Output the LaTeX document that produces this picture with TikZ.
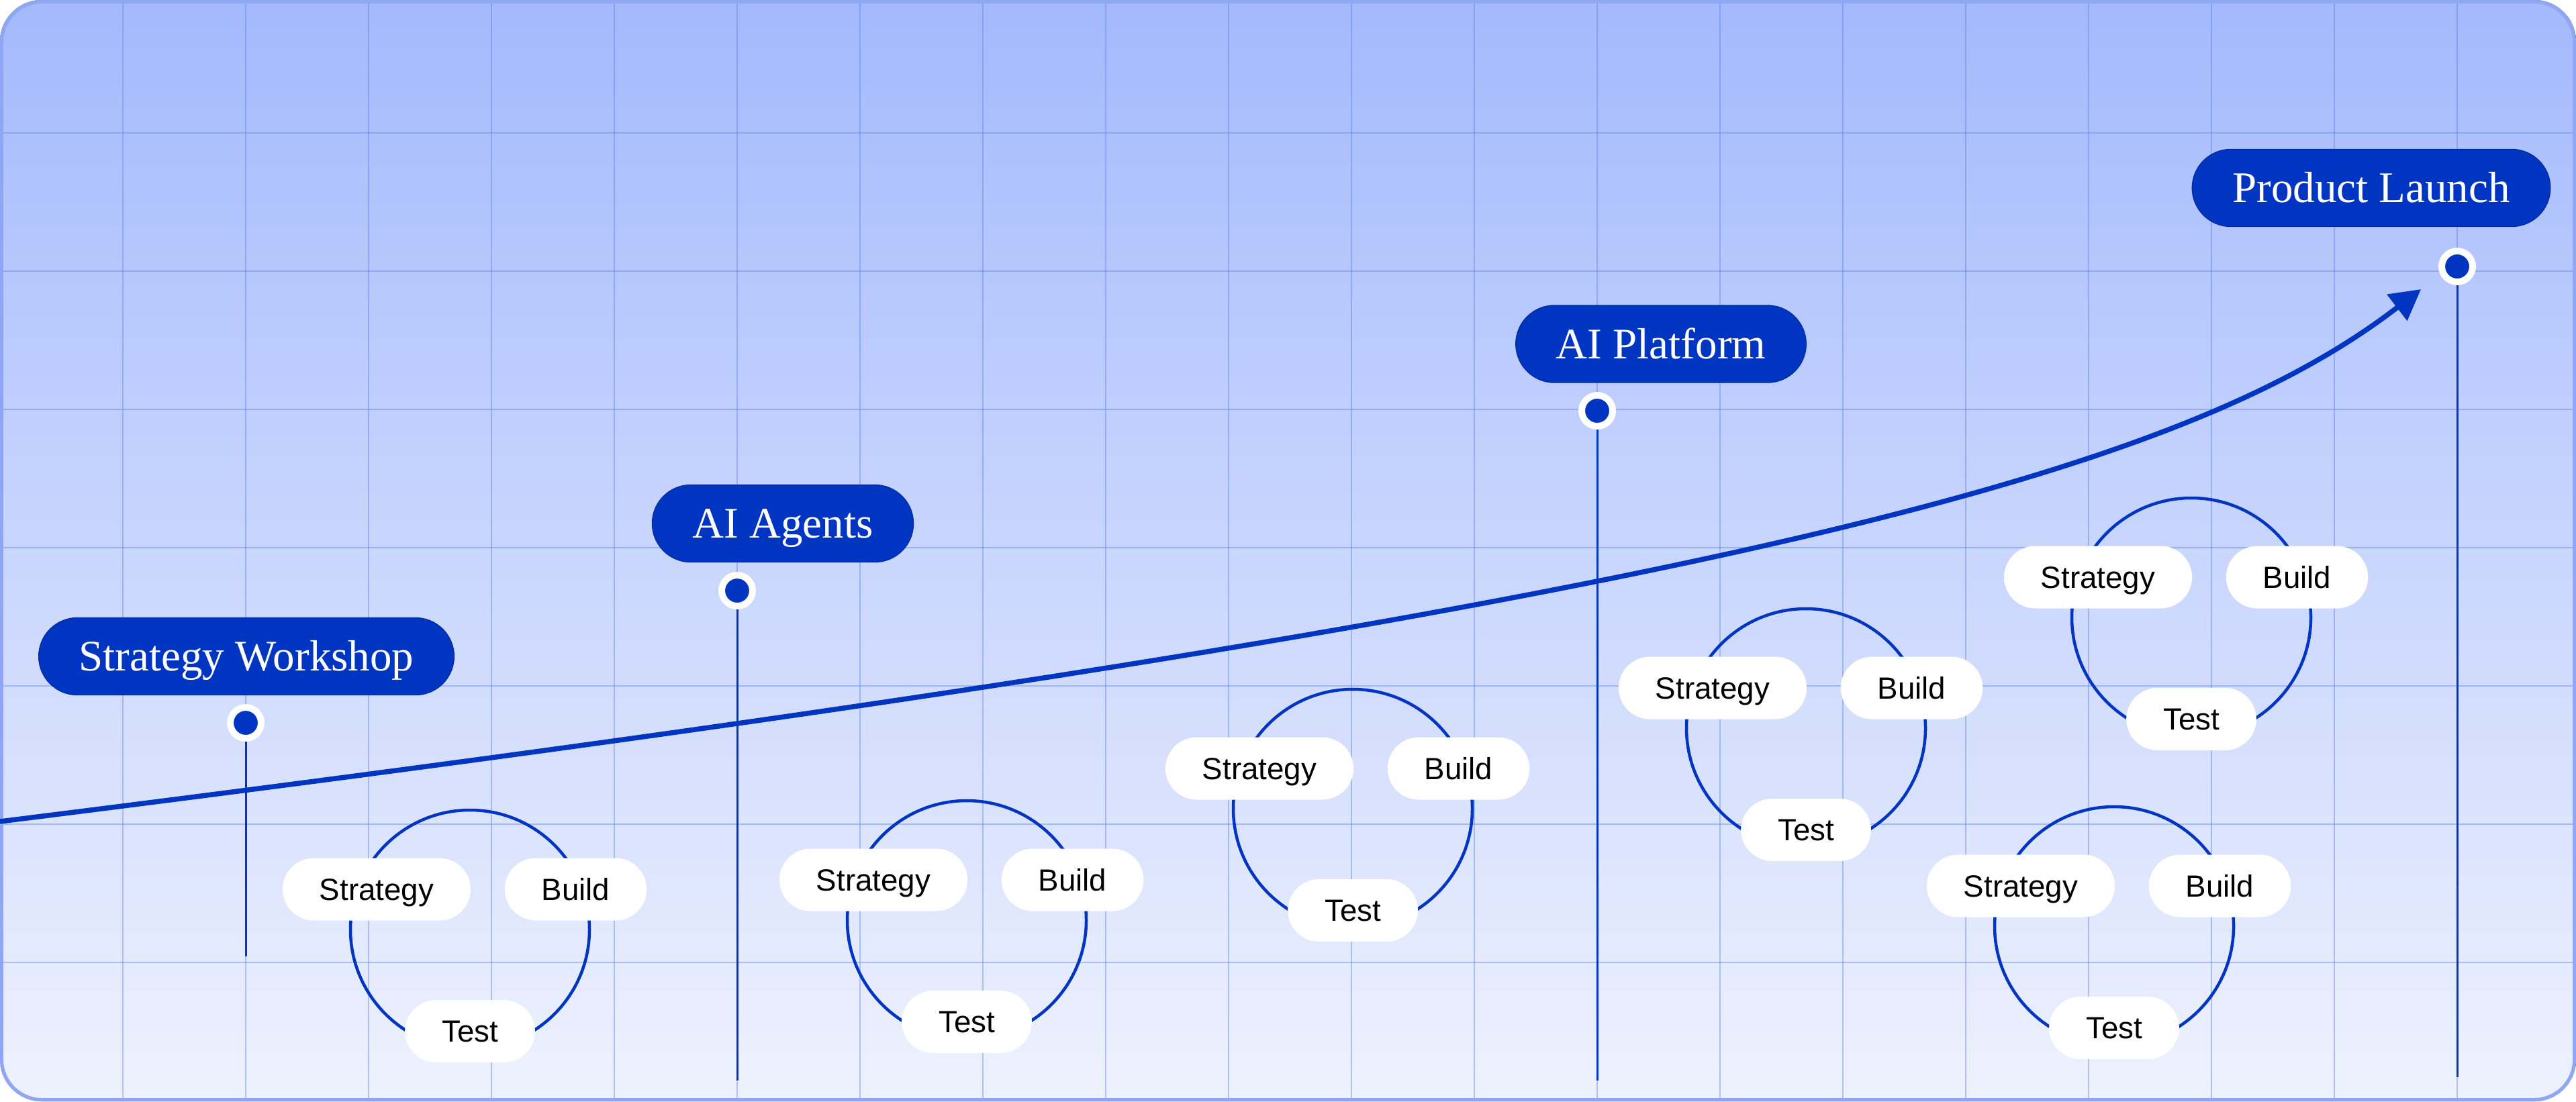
\documentclass[tikz,border=0pt]{standalone}
\usepackage{fontspec}
\setmainfont{Liberation Serif}
\newfontfamily\stepfont{Liberation Sans}
\usetikzlibrary{arrows.meta}

\definecolor{roadblue}{HTML}{0035C1}
\definecolor{bgtop}{HTML}{A3B9FC}
\definecolor{bgbottom}{HTML}{EEF2FE}
\definecolor{gridblue}{HTML}{5A7FEA}
\definecolor{framecol}{HTML}{8EA6F3}

\begin{document}
\begin{tikzpicture}[
  %% Dark blue milestone pills (serif)
  milestone/.style={draw=roadblue!85!black, line width=0.4pt, fill=roadblue,
                    rounded corners=0.575cm, minimum height=1.15cm,
                    inner xsep=0.6cm, text=white,
                    font=\fontsize{18.5}{22}\selectfont,
                    text height=0.43cm, text depth=0pt},
  %% Ringed dot under each milestone
  milestonedot/.style={circle, fill=roadblue, draw=white, line width=0.1cm,
                       minimum size=0.46cm, inner sep=0pt},
  %% White pills of the Strategy / Build / Test cycles
  stepbox/.style={fill=white, rounded corners=0.465cm, minimum height=0.93cm,
                  inner xsep=0.55cm, text=black,
                  font=\stepfont\fontsize{13}{15}\selectfont,
                  text height=0.327cm, text depth=0pt},
  %% Lines
  gridline/.style={draw=gridblue, draw opacity=0.42, line width=0.025cm},
  stemline/.style={draw=roadblue, line width=0.03cm},
  loopline/.style={draw=roadblue, line width=0.045cm},
  trend/.style={-{Triangle[length=0.45cm, width=0.48cm]},
                draw=roadblue, line width=0.075cm}
]

\useasboundingbox (0,0) rectangle (38.37,-16.41);

%% ── Background panel with grid ──────────────────────────────────────────
\fill[top color=bgtop, bottom color=bgbottom, rounded corners=0.62cm]
  (0,0) rectangle (38.37,-16.41);
\begin{scope}
  \clip[rounded corners=0.62cm] (0,0) rectangle (38.37,-16.41);
  \foreach \gx in {1,...,20}
    \draw[gridline] (\gx*1.83,0) -- (\gx*1.83,-16.41);
  \foreach \gy in {0,...,6}
    \draw[gridline] (0,-1.98-\gy*2.06) -- (38.37,-1.98-\gy*2.06);
\end{scope}
\draw[framecol, line width=0.05cm, rounded corners=0.6cm]
  (0.025,-0.025) rectangle (38.345,-16.385);

%% ── Milestones: label, dot, stem ────────────────────────────────────────
\node[milestone]    (workshop)    at (3.67,-9.78)   {Strategy Workshop};
\node[milestonedot] (workshopdot) at (3.66,-10.77)  {};
\node[milestone]    (agents)      at (11.66,-7.80)  {AI Agents};
\node[milestonedot] (agentsdot)   at (10.98,-8.80)  {};
\node[milestone]    (platform)    at (24.74,-5.125) {AI Platform};
\node[milestonedot] (platformdot) at (23.79,-6.12)  {};
\node[milestone]    (launch)      at (35.32,-2.80)  {Product Launch};
\node[milestonedot] (launchdot)   at (36.60,-3.97)  {};

\coordinate (workshopend) at (3.66,-14.25);
\coordinate (agentsend)   at (10.98,-16.10);
\coordinate (platformend) at (23.79,-16.10);
\coordinate (launchend)   at (36.60,-16.05);

\draw[stemline] (workshopdot) -- (workshopend);
\draw[stemline] (agentsdot)   -- (agentsend);
\draw[stemline] (platformdot) -- (platformend);
\draw[stemline] (launchdot)   -- (launchend);

%% ── Rising trend arrow ──────────────────────────────────────────────────
\coordinate (trendstart) at (0,-12.24);
\coordinate (trendend)   at (36.06,-4.31);
\draw[trend] (trendstart) .. controls (26.00,-8.99) and (32.56,-7.00) .. (trendend);

%% ── Strategy / Build / Test cycles ──────────────────────────────────────
%% Cycle 1
\begin{scope}[shift={(7.00,-13.85)}]
  \draw[loopline] (0,0) circle (1.78);
  \node[stepbox] (strat1) at (-1.39,0.60) {Strategy};
  \node[stepbox] (build1) at (1.575,0.60) {Build};
  \node[stepbox] (test1)  at (0,-1.515)   {Test};
\end{scope}
%% Cycle 2
\begin{scope}[shift={(14.40,-13.71)}]
  \draw[loopline] (0,0) circle (1.78);
  \node[stepbox] (strat2) at (-1.39,0.60) {Strategy};
  \node[stepbox] (build2) at (1.575,0.60) {Build};
  \node[stepbox] (test2)  at (0,-1.515)   {Test};
\end{scope}
%% Cycle 3
\begin{scope}[shift={(20.15,-12.05)}]
  \draw[loopline] (0,0) circle (1.78);
  \node[stepbox] (strat3) at (-1.39,0.60) {Strategy};
  \node[stepbox] (build3) at (1.575,0.60) {Build};
  \node[stepbox] (test3)  at (0,-1.515)   {Test};
\end{scope}
%% Cycle 4
\begin{scope}[shift={(26.90,-10.85)}]
  \draw[loopline] (0,0) circle (1.78);
  \node[stepbox] (strat4) at (-1.39,0.60) {Strategy};
  \node[stepbox] (build4) at (1.575,0.60) {Build};
  \node[stepbox] (test4)  at (0,-1.515)   {Test};
\end{scope}
%% Cycle 5 (upper right)
\begin{scope}[shift={(32.64,-9.20)}]
  \draw[loopline] (0,0) circle (1.78);
  \node[stepbox] (strat5) at (-1.39,0.60) {Strategy};
  \node[stepbox] (build5) at (1.575,0.60) {Build};
  \node[stepbox] (test5)  at (0,-1.515)   {Test};
\end{scope}
%% Cycle 6 (lower right)
\begin{scope}[shift={(31.49,-13.80)}]
  \draw[loopline] (0,0) circle (1.78);
  \node[stepbox] (strat6) at (-1.39,0.60) {Strategy};
  \node[stepbox] (build6) at (1.575,0.60) {Build};
  \node[stepbox] (test6)  at (0,-1.515)   {Test};
\end{scope}

\end{tikzpicture}
\end{document}
